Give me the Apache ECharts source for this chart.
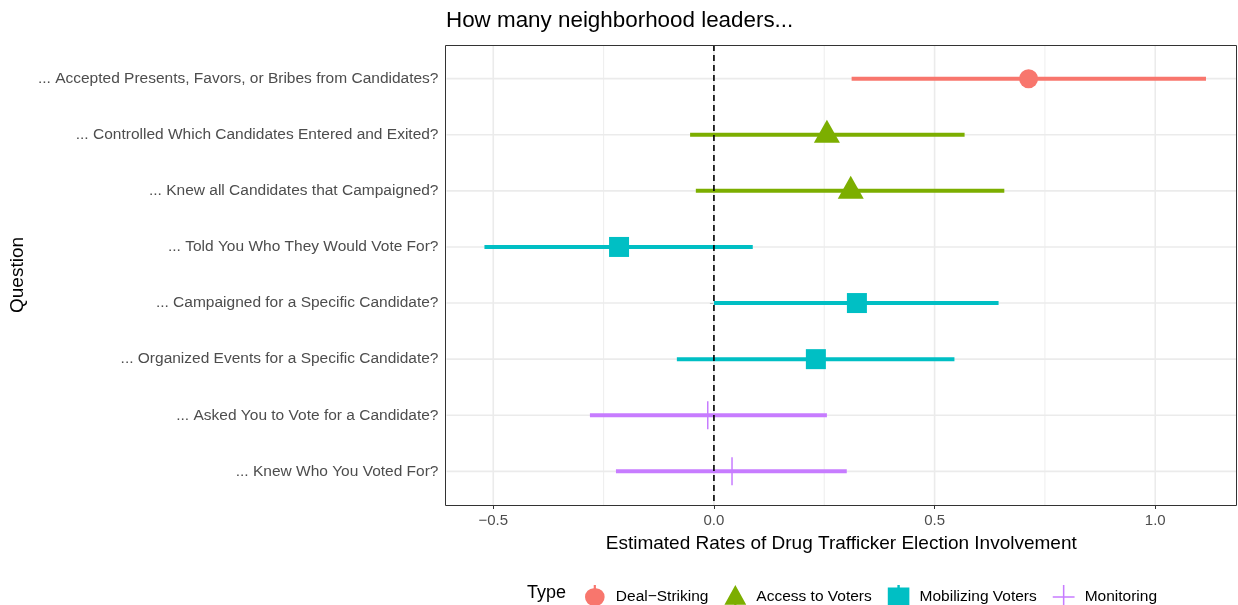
<!DOCTYPE html>
<html>
<head>
<meta charset="utf-8">
<script src="https://cdn.jsdelivr.net/npm/echarts@6/dist/echarts.min.js"></script>
<style>
  html, body { margin: 0; padding: 0; background: #fff; }
  #chart { width: 1238px; height: 605px; }
</style>
</head>
<body>
<div id="chart"></div>
<script>
// Survey items, top to bottom
const questions = [
  '... Accepted Presents, Favors, or Bribes from Candidates?',
  '... Controlled Which Candidates Entered and Exited?',
  '... Knew all Candidates that Campaigned?',
  '... Told You Who They Would Vote For?',
  '... Campaigned for a Specific Candidate?',
  '... Organized Events for a Specific Candidate?',
  '... Asked You to Vote for a Candidate?',
  '... Knew Who You Voted For?'
];
// Type of involvement for each item
const types = ['Deal\u2212Striking', 'Access to Voters', 'Access to Voters', 'Mobilizing Voters',
               'Mobilizing Voters', 'Mobilizing Voters', 'Monitoring', 'Monitoring'];
// Point estimates and confidence bounds
const estimates = [0.713, 0.256, 0.310, -0.215, 0.324, 0.231, -0.014, 0.041];
const lower     = [0.312, -0.054, -0.041, -0.520, 0.000, -0.084, -0.281, -0.222];
const upper     = [1.115, 0.568, 0.658, 0.088, 0.645, 0.545, 0.256, 0.301];

const typeNames = ['Deal\u2212Striking', 'Access to Voters', 'Mobilizing Voters', 'Monitoring'];
const typeColors = ['#F8766D', '#7CAE00', '#00BFC4', '#C77CFF'];
const typeShapes = ['circle', 'triangle', 'square', 'plus'];

const xTicks = [-0.5, 0, 0.5, 1.0];
const xMinorTicks = [-0.25, 0.25, 0.75];
const xMin = -0.606, xMax = 1.183;

const FONT = 'Liberation Sans, Arial, sans-serif';

// Panel frame (the category bands sit slightly inside it)
const panel = { left: 445, top: 45, right: 1236, bottom: 505 };
const bandPad = (panel.bottom - panel.top) / 8.2 * 0.1;

function fmtTick(v) {
  const s = Math.abs(v).toFixed(1);
  return v < 0 ? '\u2212' + s : s;
}

// Background: grid lines and the dashed zero reference
function renderGrid(params, api) {
  const cs = params.coordSys;
  const kind = api.value(0);
  const v = api.value(1);
  const pad = cs.height / 8 * 0.1;
  if (kind === 0 || kind === 1 || kind === 3) {
    const x = api.coord([v, 0])[0];
    const style = kind === 3
      ? { stroke: '#000', lineWidth: 1.6, lineDash: [6, 4] }
      : { stroke: '#EBEBEB', lineWidth: kind === 0 ? 1.6 : 0.9 };
    return { type: 'line',
      shape: { x1: x, y1: cs.y - pad, x2: x, y2: cs.y + cs.height + pad }, style };
  }
  const y = api.coord([0, v])[1];
  return { type: 'line', shape: { x1: cs.x, y1: y, x2: cs.x + cs.width, y2: y },
    style: { stroke: '#EBEBEB', lineWidth: 1.6 } };
}

const gridData = [];
xTicks.forEach(v => gridData.push([0, v]));
xMinorTicks.forEach(v => gridData.push([1, v]));
questions.forEach((q, i) => gridData.push([2, i]));

function makeRender(shape, color) {
  return function (params, api) {
    const y = api.coord([0, api.value(0)])[1];
    const xl = api.coord([api.value(1), 0])[0];
    const xe = api.coord([api.value(2), 0])[0];
    const xh = api.coord([api.value(3), 0])[0];
    const children = [{
      type: 'line', shape: { x1: xl, y1: y, x2: xh, y2: y },
      style: { stroke: color, lineWidth: 4 }
    }];
    if (shape === 'circle') {
      children.push({ type: 'circle', shape: { cx: xe, cy: y, r: 9.5 }, style: { fill: color } });
    } else if (shape === 'triangle') {
      children.push({ type: 'polygon', shape: { points: [[xe, y - 15], [xe - 13, y + 8], [xe + 13, y + 8]] },
        style: { fill: color } });
    } else if (shape === 'square') {
      children.push({ type: 'rect', shape: { x: xe - 10, y: y - 10, width: 20, height: 20 }, style: { fill: color } });
    } else {
      children.push({ type: 'line', shape: { x1: xe, y1: y - 14, x2: xe, y2: y + 14 },
        style: { stroke: color, lineWidth: 1.5 } });
      children.push({ type: 'line', shape: { x1: xe - 14, y1: y, x2: xe + 14, y2: y },
        style: { stroke: color, lineWidth: 1.5 } });
    }
    return { type: 'group', children };
  };
}

const legendIcons = [
  'path://M9,0 H11 V3 A8,8 0 0 1 11,19 V22 H9 V19 A8,8 0 0 1 9,3 Z',
  'path://M10,0 L20,18 L11,18 L11,22 L9,22 L9,18 L0,18 Z',
  'path://M9,0 H11 V2 H19 V20 H1 V2 H9 Z',
  'path://M9.3,0 H10.7 V10.3 H20 V11.7 H10.7 V22 H9.3 V11.7 H0 V10.3 H9.3 Z'
];

const series = [{
  type: 'custom', name: 'grid', silent: true, z: 1, clip: false,
  renderItem: renderGrid, data: gridData
}, {
  type: 'custom', name: 'zero', silent: true, z: 5, clip: false,
  renderItem: renderGrid, data: [[3, 0]]
}];

typeNames.forEach((t, k) => {
  const data = [];
  questions.forEach((q, i) => {
    if (types[i] === t) data.push([i, lower[i], estimates[i], upper[i]]);
  });
  series.push({
    type: 'custom', name: t, z: 3, clip: false,
    itemStyle: { color: typeColors[k] },
    renderItem: makeRender(typeShapes[k], typeColors[k]),
    encode: { y: 0, x: [1, 2, 3] },
    data
  });
});

const chart = echarts.init(document.getElementById('chart'), null, { renderer: 'canvas' });
chart.setOption({
  animation: false,
  backgroundColor: '#fff',
  textStyle: { fontFamily: FONT },
  grid: {
    left: panel.left, right: 1238 - panel.right,
    top: panel.top + bandPad, bottom: 605 - panel.bottom + bandPad, show: false
  },
  graphic: [{
    type: 'rect', silent: true, z: 100,
    shape: { x: panel.left + 0.5, y: panel.top + 0.5, width: panel.right - panel.left, height: panel.bottom - panel.top },
    style: { fill: 'none', stroke: '#333', lineWidth: 1 }
  }, {
    type: 'text', left: 446, top: 10, silent: true,
    style: { text: 'How many neighborhood leaders...', fontSize: 22.4, fill: '#000', fontFamily: FONT }
  }, {
    type: 'text', left: 527, top: 584, silent: true,
    style: { text: 'Type', fontSize: 18, fill: '#000', fontFamily: FONT }
  }],
  xAxis: {
    type: 'value', min: xMin, max: xMax, offset: bandPad,
    name: 'Estimated Rates of Drug Trafficker Election Involvement',
    nameLocation: 'middle', nameGap: 29,
    nameTextStyle: { fontSize: 19, color: '#000' },
    axisLine: { show: false },
    axisTick: { show: true, customValues: xTicks, length: 4, lineStyle: { color: '#333', width: 1 } },
    axisLabel: { customValues: xTicks, formatter: fmtTick, fontSize: 15, color: '#4D4D4D', margin: 8 },
    splitLine: { show: false }
  },
  yAxis: {
    type: 'category', data: questions, inverse: true,
    name: 'Question', nameLocation: 'middle', nameGap: 415, nameRotate: 90,
    nameTextStyle: { fontSize: 19, color: '#000' },
    axisLine: { show: false },
    axisTick: { show: true, alignWithLabel: true, length: 4, lineStyle: { color: '#333', width: 1 } },
    axisLabel: { fontSize: 15.5, color: '#4D4D4D', margin: 8 },
    splitLine: { show: false }
  },
  legend: {
    data: typeNames.map((t, k) => ({ name: t, icon: legendIcons[k] })),
    left: 580, top: 580, itemWidth: 22, itemHeight: 24, itemGap: 16,
    textStyle: { fontSize: 15.5, color: '#000', padding: [0, 0, 0, 5] },
    selectedMode: false
  },
  series
});
</script>
</body>
</html>
